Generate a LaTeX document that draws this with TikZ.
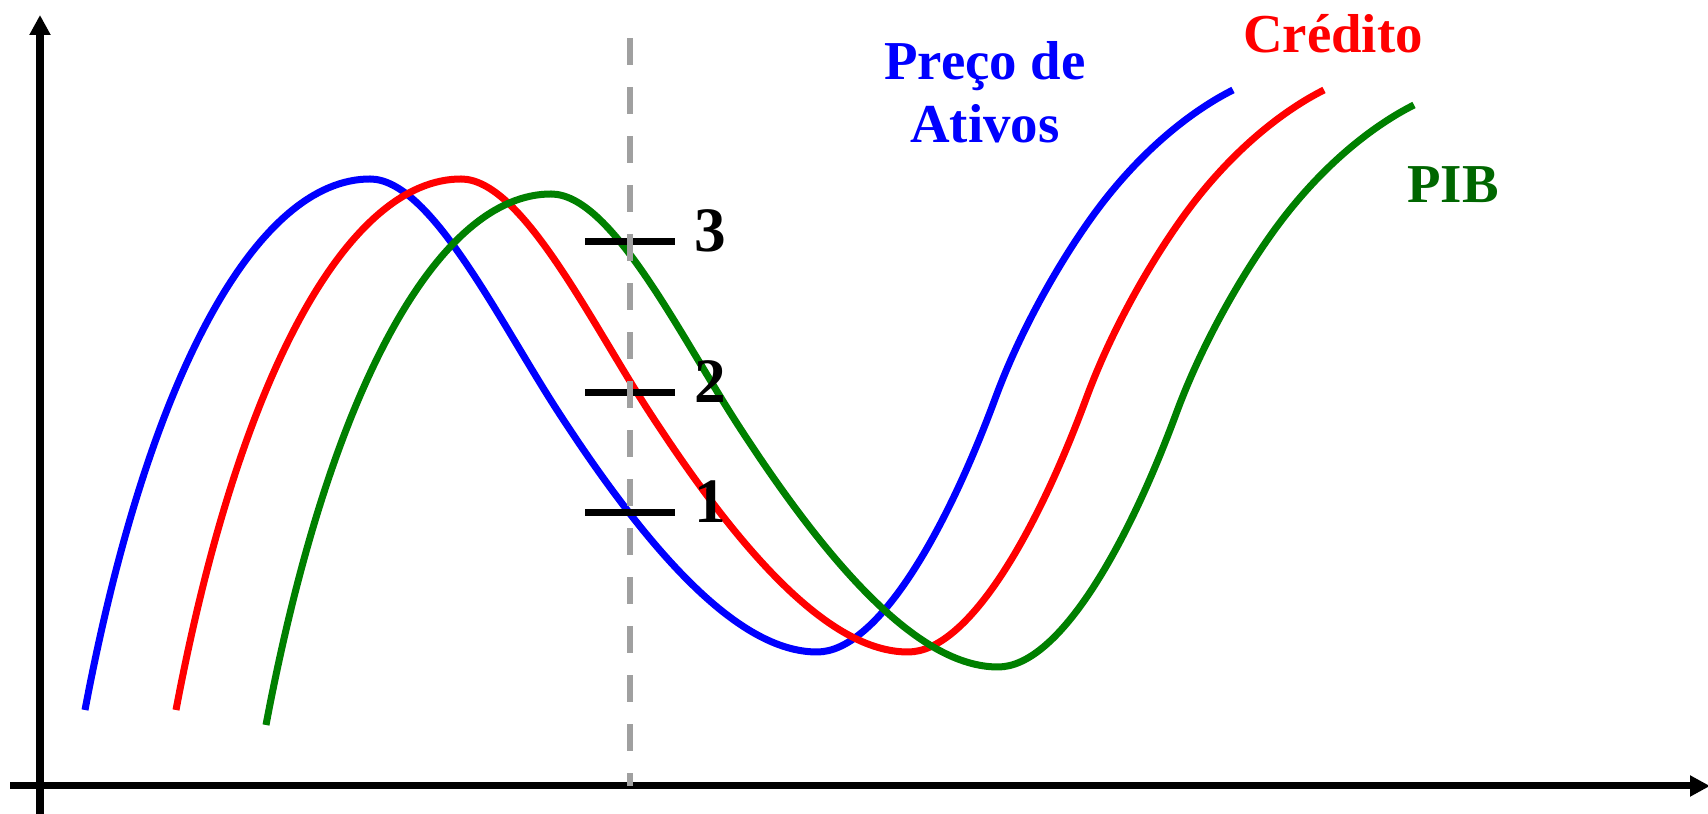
\documentclass[tikz,border=0pt]{standalone}
\usepackage{fontspec}
\setmainfont{Liberation Serif}
\usetikzlibrary{arrows.meta}

\definecolor{curvegreen}{RGB}{0,128,0}
\definecolor{labelgreen}{RGB}{0,102,0}
\definecolor{markgray}{RGB}{160,160,160}

\tikzset{
	axis/.style={line width=0.07cm, black, -{Triangle[width=0.2cm,length=0.2cm]}},
	cycle/.style={line width=0.07cm},
	tickline/.style={line width=0.07cm, black},
	lbl/.style={font=\bfseries\fontsize{15.6}{18}\selectfont, anchor=base, inner sep=0pt},
	num/.style={font=\bfseries\fontsize{18}{20}\selectfont, anchor=base, inner sep=0pt},
}

\begin{document}
\begin{tikzpicture}
	\useasboundingbox (0,0) rectangle (17.08,8.14);
	% axes
	\draw [axis] (0.40,0) -- (0.40,7.99);
	\draw [axis] (0.10,0.28) -- (17.10,0.28);
	% the three cycles, same shape shifted in time
	\foreach \c/\dx/\dy in {blue/0/0, red/0.91/0, curvegreen/1.81/-0.15} {
		\draw [cycle, \c, shift={(\dx,\dy)}] (0.85,1.04)
			.. controls (1.50,4.48) and (2.60,6.35) .. (3.70,6.35)
			.. controls (4.30,6.35) and (4.97,4.97) .. (5.57,4.04)
			.. controls (6.47,2.65) and (7.37,1.62) .. (8.17,1.62)
			.. controls (8.77,1.62) and (9.45,2.80) .. (9.95,4.15)
			.. controls (10.20,4.83) and (10.57,5.47) .. (10.87,5.90)
			.. controls (11.37,6.62) and (11.93,7.04) .. (12.33,7.24);
	}
	% marks on the cut
	\foreach \n/\y in {1/3.01, 2/4.21, 3/5.72} {
		\draw [tickline] (5.85,\y) -- (6.75,\y);
		\node [num] (n\n) at (7.10,\y-0.10) {\n};
	}
	\draw [markgray, line width=0.06cm, dash pattern=on 0.27cm off 0.22cm] (6.30,7.76) -- (6.30,0.28);
	% labels
	\node [lbl, blue] (precoA) at (9.85,7.34) {Preço de};
	\node [lbl, blue] (precoB) at (9.85,6.71) {Ativos};
	\node [lbl, red] (credito) at (13.33,7.61) {Crédito};
	\node [lbl, labelgreen] (pib) at (14.53,6.11) {PIB};
\end{tikzpicture}
\end{document}
